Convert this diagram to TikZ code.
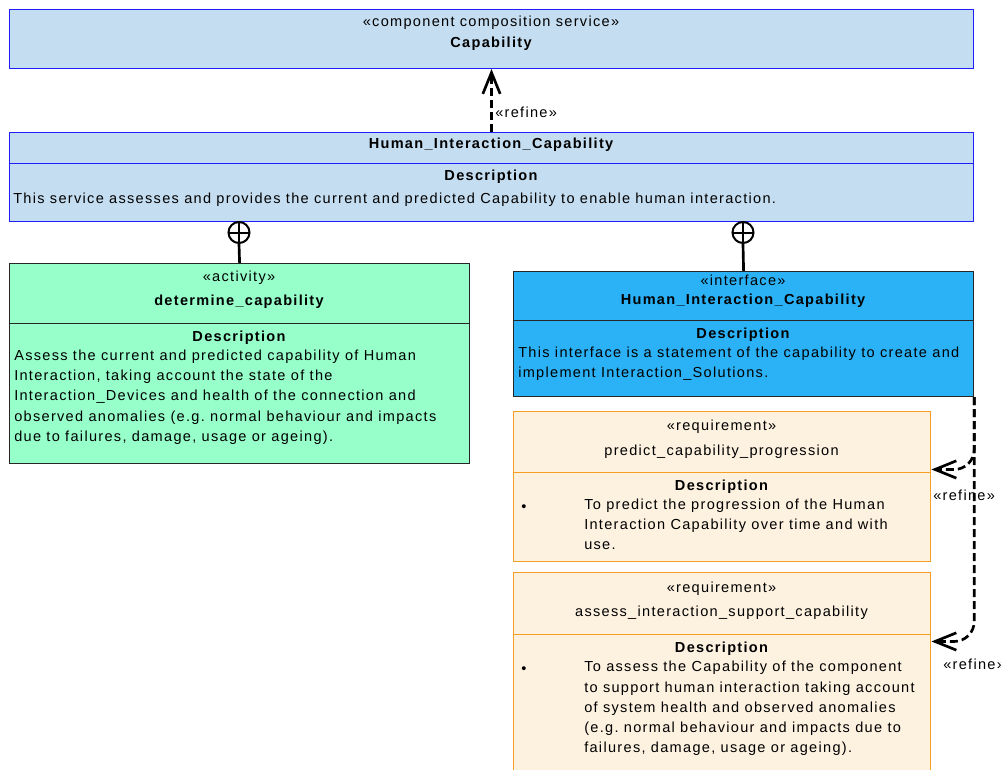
\documentclass[tikz,border=0pt]{standalone}
\usepackage{fontspec}
\setmainfont{Liberation Sans}[LetterSpace=9]
\usetikzlibrary{arrows.meta, positioning}

\definecolor{svcfill}{RGB}{197,221,240}
\definecolor{svcline}{RGB}{30,30,250}
\definecolor{actfill}{RGB}{150,255,202}
\definecolor{ifcfill}{RGB}{42,177,246}
\definecolor{reqfill}{RGB}{253,241,224}
\definecolor{reqline}{RGB}{247,158,36}

\newcommand{\umlfont}{\fontsize{10.9}{15.2}\selectfont}

\begin{document}
\frenchspacing
\begin{tikzpicture}[
  x=0.75pt, y=-0.75pt,
  box/.style={draw, rectangle, anchor=north west, inner sep=0},
  svc/.style={box, fill=svcfill, draw=svcline, line width=0.75pt, minimum width=723pt},
  act/.style={box, fill=actfill, draw=black!85, line width=0.9pt, minimum width=345pt},
  ifc/.style={box, fill=ifcfill, draw=black!85, line width=0.9pt, minimum width=345pt},
  req/.style={box, fill=reqfill, draw=reqline, line width=1.1pt, minimum width=312.75pt},
  lbl/.style={inner sep=0, anchor=base, font=\umlfont},
  ttl/.style={lbl, font=\umlfont\bfseries},
  desc/.style={inner sep=0, anchor=north west, align=left, font=\umlfont,
               execute at begin node=\strut},
  owner/.style={circle, draw, line width=1.5pt, minimum size=15.75pt, inner sep=0,
    path picture={\draw[line width=1.5pt]
      (path picture bounding box.north) -- (path picture bounding box.south)
      (path picture bounding box.west) -- (path picture bounding box.east);}},
  own/.style={line width=2pt},
  refine/.style={line width=2pt, dash pattern=on 6pt off 3pt,
                 -{Straight Barb[length=16pt, width=13pt]}}
]
  \path[fill=white] (0,0) rectangle (1001,769);
  \useasboundingbox (0,0) rectangle (1001,769);

  % composition service
  \node[svc, minimum height=44.25pt] (cap) at (9,9) {};
  \node[lbl] (capSt) at (491,26) {«component composition service»};
  \node[ttl] (capNm) at (491,47) {Capability};

  \node[svc, minimum height=23.25pt] (hicHead) at (9,132) {};
  \node[svc, minimum height=43.5pt] (hicBody) at (9,163) {};
  \node[ttl] (hicNm) at (491,148.5) {Human\_Interaction\_Capability};
  \node[ttl] (hicDt) at (491,180) {Description};
  \node[desc] (hicDs) at (13,188.8) {This service assesses and provides the current and predicted Capability to enable human interaction.};

  % activity
  \node[act, minimum height=45pt] (actHead) at (9,263) {};
  \node[act, minimum height=105pt] (actBody) at (9,323) {};
  \node[lbl] (actSt) at (239,281.5) {«activity»};
  \node[ttl] (actNm) at (239,305) {determine\_capability};
  \node[ttl] (actDt) at (239,341) {Description};
  \node[desc] (actDs) at (14,349.5) {Assess the current and predicted capability of Human\\
    Interaction, taking account the state of the\\
    Interaction\_Devices and health of the connection and\\
    observed anomalies (e.g. normal behaviour and impacts\\
    due to failures, damage, usage or ageing).};

  % interface
  \node[ifc, minimum height=36.75pt] (ifcHead) at (513,271) {};
  \node[ifc, minimum height=57pt] (ifcBody) at (513,320) {};
  \node[lbl] (ifcSt) at (743,285) {«interface»};
  \node[ttl] (ifcNm) at (743,304.5) {Human\_Interaction\_Capability};
  \node[ttl] (ifcDt) at (743,338.5) {Description};
  \node[desc] (ifcDs) at (518,346.5) {This interface is a statement of the capability to create and\\
    implement Interaction\_Solutions.};

  % requirements
  \node[req, minimum height=45.75pt] (req1Head) at (513,411) {};
  \node[req, minimum height=66.75pt] (req1Body) at (513,472) {};
  \node[lbl] (req1St) at (721.5,430) {«requirement»};
  \node[lbl] (req1Nm) at (721.5,455) {predict\_capability\_progression};
  \node[ttl] (req1Dt) at (721.5,490) {Description};
  \node[lbl] (req1Bl) at (524,511) {•};
  \node[desc] (req1Ds) at (584,498.5) {To predict the progression of the Human\\
    Interaction Capability over time and with\\
    use.};

  \node[req, minimum height=46.5pt] (req2Head) at (513,572) {};
  \node[req, minimum height=117pt] (req2Body) at (513,634) {};
  \node[lbl] (req2St) at (721.5,592.5) {«requirement»};
  \node[lbl] (req2Nm) at (721.5,616) {assess\_interaction\_support\_capability};
  \node[ttl] (req2Dt) at (721.5,652.5) {Description};
  \node[lbl] (req2Bl) at (524,673) {•};
  \node[desc] (req2Ds) at (584,661) {To assess the Capability of the component\\
    to support human interaction taking account\\
    of system health and observed anomalies\\
    (e.g. normal behaviour and impacts due to\\
    failures, damage, usage or ageing).};

  % ownership
  \node[owner] (own1) at (239,232.5) {};
  \node[owner] (own2) at (743,232.5) {};
  \draw[own] (own1.south) -- (actHead.north);
  \draw[own] (own2.south) -- (ifcHead.north);

  % refine links
  \draw[refine] (hicHead.north) -- (cap.south);
  \node[lbl, anchor=base west] (rf0) at (495,117) {«refine»};
  \draw[refine, rounded corners=15pt] (ifcBody.south east) |- ([yshift=3pt]req1Head.south east);
  \draw[refine, rounded corners=15pt] (ifcBody.south east) |- ([yshift=-4.5pt]req2Head.south east);
  \node[lbl, anchor=base west] (rf1) at (933,500) {«refine»};
  \node[lbl, anchor=base west] (rf2) at (943,669) {«refine»};
\end{tikzpicture}
\end{document}
